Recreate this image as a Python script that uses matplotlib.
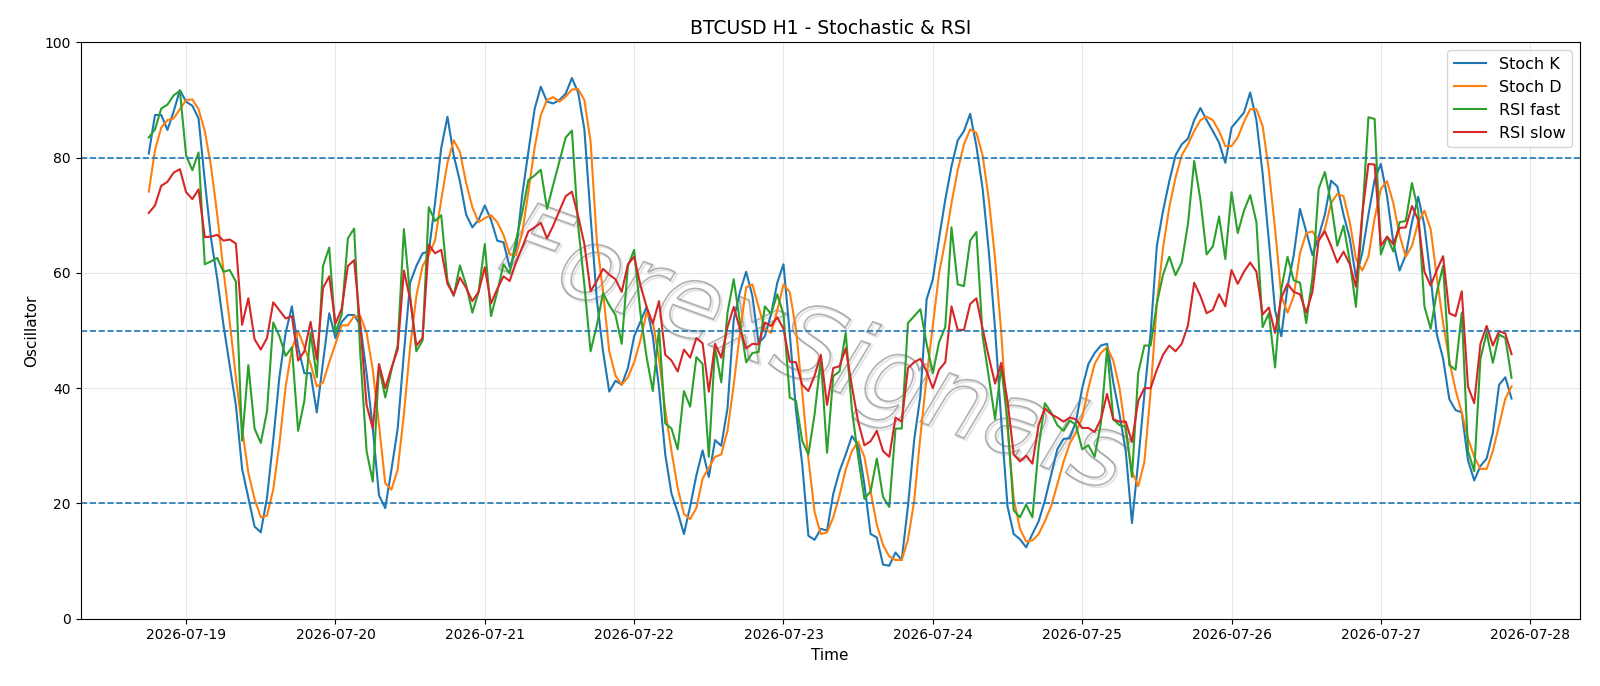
import matplotlib
matplotlib.use("Agg")
import matplotlib.pyplot as plt
import matplotlib.dates as mdates
import pandas as pd
from matplotlib.textpath import TextPath
from matplotlib.patches import PathPatch
from matplotlib.font_manager import FontProperties
from matplotlib.transforms import Affine2D, ScaledTranslation

# hourly bars, 2026-07-18 18:00 -> 2026-07-27 21:00
times = pd.date_range("2026-07-18 18:00", periods=220, freq="h")

stoch_k = [
    80.7, 87.4, 87.4, 84.8, 88, 91.7, 89.7, 89, 86.8, 76, 66, 59, 51, 44, 37, 26, 21, 16, 15, 21, 31, 42, 49.6, 54.2,
    47.1, 42.6, 42.6, 35.8, 44.5, 53, 48.7, 51.5, 52.7, 52.7, 50.9, 42.6, 33, 21.4, 19.2, 25.9, 33, 46.1, 58.3, 61.2, 63.4, 63.7, 72.1, 81.7,
    87.1, 80.4, 75.9, 70.1, 67.9, 69.2, 71.7, 69.2, 65.6, 65.3, 61, 63.7, 73.4, 81, 88.4, 92.3, 89.7, 89.4, 90, 91.1, 93.8, 91.3, 84.9, 69.8,
    55.4, 46.4, 39.4, 41.3, 40.6, 43.5, 49, 51.5, 54.1, 49, 40, 28.5, 21.7, 18.5, 14.7, 19.5, 24.9, 29.2, 24.6, 31, 30, 36.5, 51.9, 56.7,
    60.2, 56, 47.8, 49, 52.8, 58.3, 61.5, 49.6, 36.2, 26.9, 14.4, 13.7, 15.6, 15.3, 21.7, 25.6, 28.5, 31.7, 30.1, 23.3, 14.7, 14.1, 9.4, 9.2,
    11.5, 10.2, 19.5, 31, 38.7, 55.4, 58.9, 66, 72.7, 78.5, 83, 84.6, 87.6, 82, 74.6, 63.7, 50.3, 34.2, 19.5, 14.7, 13.8, 12.4, 14.7, 16.9,
    20.5, 24.9, 29.4, 31.2, 31.3, 34.2, 40, 44.2, 46.1, 47.4, 47.7, 41, 35.5, 29.1, 16.6, 27.2, 39, 49.6, 64.7, 70.8, 75.9, 80.4, 82.3, 83.3,
    86.5, 88.6, 86.5, 84.6, 82.6, 79.1, 85.2, 86.5, 87.8, 91.3, 86.5, 77.2, 65.6, 53.5, 49, 57.6, 63.1, 71.1, 67.2, 63.1, 66.3, 70.1, 76, 75,
    70.1, 66, 59.2, 63.4, 70.1, 76.2, 78.9, 73.3, 65.3, 60.4, 63.1, 68.8, 73.2, 68.2, 59.2, 49.3, 45.1, 38.1, 36.2, 35.8, 27.5, 24, 26.5, 27.8,
    32.3, 40.6, 41.9, 38.2,
]

stoch_d = [
    74.1, 81.3, 85.2, 86.5, 86.8, 88.4, 90, 90.1, 88.4, 84.6, 78.5, 70.1, 60.5, 51.5, 41.9, 33, 25.3, 20.8, 17.6, 17.9, 22.4, 30.4, 40.3, 46.8,
    49.9, 47.1, 44.2, 40.3, 41, 44.5, 47.7, 50.9, 50.9, 52.5, 52.5, 49.6, 43.2, 33.6, 23.5, 22.4, 25.9, 35.5, 47.1, 56, 61.2, 63.1, 65.6, 72.7,
    79.1, 83, 81, 75.6, 71.4, 68.8, 69.5, 70, 68.8, 66.6, 63.2, 63.1, 66.9, 74, 81.7, 87.4, 90, 90.5, 89.7, 90.6, 91.8, 91.9, 90, 82.8,
    65.6, 56.7, 46.4, 42.2, 40.6, 41.9, 44.5, 48.3, 53.1, 51.5, 45.1, 36.2, 29.1, 22.7, 18.2, 17.3, 19.2, 24.3, 26.2, 28.1, 28.5, 32.6, 40.6, 49.6,
    57.5, 58, 54.1, 50.3, 49.6, 53.5, 58, 56.7, 50.3, 39.4, 27.8, 18.5, 14.7, 15, 17.6, 21.4, 25.9, 29.1, 30.7, 28.1, 22.1, 16.3, 12.8, 10.8,
    10.2, 10.2, 13.7, 20.4, 31.7, 41.9, 50.9, 59.9, 65.6, 72.1, 77.8, 82.3, 84.9, 84.3, 80.4, 72.7, 62.5, 49.6, 33, 20.8, 15.6, 13.4, 13.6, 14.7,
    16.9, 19.5, 23.3, 27.2, 30.4, 32.3, 34.9, 40, 44.2, 46.1, 47.1, 44.8, 40, 32.3, 25.6, 23, 27.2, 39.4, 54.7, 64.4, 71.4, 76.5, 80.4, 82.3,
    84.6, 86.5, 87.1, 86.5, 84.6, 82, 82, 83.5, 86.2, 88.4, 88.4, 85.5, 77.8, 67.6, 56, 53.1, 56, 63.4, 66.9, 67.2, 65.6, 67.6, 72.1, 73.7,
    73.3, 68.8, 62.4, 60.4, 62.8, 69.5, 74.6, 75.9, 72.1, 66.6, 62.8, 64.7, 68.8, 70.8, 67.6, 59.2, 51.3, 44.8, 39.7, 35.8, 31.3, 28.1, 26, 26,
    29.1, 33.6, 38.2, 40.3,
]

rsi_fast = [
    83.5, 84.9, 88.5, 89.2, 90.8, 91.6, 80.4, 77.8, 80.9, 61.5, 62, 62.6, 60.2, 60.5, 58.5, 30.9, 44, 33, 30.5, 36, 51.4, 49, 45.6, 47.1,
    32.6, 37.8, 49.6, 41.9, 61.2, 64.4, 49.6, 52.8, 66, 67.7, 45.8, 29.1, 23.8, 43.8, 38.4, 43.2, 47.4, 67.6, 56, 46.4, 48.3, 71.4, 69, 70,
    58.6, 56, 61.3, 57.9, 53.1, 56.7, 65, 52.5, 56.7, 61.5, 59.9, 65.6, 70.4, 76.1, 76.9, 77.9, 71.1, 75.3, 79.4, 83.5, 84.7, 68.2, 57.9, 46.4,
    50.9, 56.5, 54.4, 52.7, 47.7, 61.2, 64, 53.1, 45.4, 39.5, 50.3, 33.9, 33, 29.4, 39.5, 36.8, 45.4, 44.2, 28.1, 47.1, 41, 53.1, 58.9, 51.5,
    44.5, 46.1, 46.3, 54.2, 52.9, 56.3, 52.8, 38.4, 37.8, 30.9, 28.5, 35.5, 45.1, 28.8, 42.1, 42.9, 49.6, 36.2, 28.1, 20.8, 22.1, 27.8, 21.1, 19.4,
    33, 33, 51.3, 52.5, 53.7, 47.7, 42.6, 48, 50.6, 67.9, 58, 57.7, 65.6, 67.1, 49, 41.9, 34.6, 43.8, 34.2, 18.8, 17.6, 19.8, 17.6, 29.7,
    37.4, 35.8, 33.6, 32.6, 34.4, 33.6, 29.4, 30.1, 28.1, 33.9, 46.9, 34.6, 33.6, 33.3, 24.6, 42.6, 47.4, 47.4, 54.7, 59.7, 62.8, 59.6, 61.8, 68.5,
    79.4, 72.7, 63.2, 64.6, 69.8, 62.4, 74, 66.9, 70.8, 73.5, 68.8, 50.6, 53, 43.6, 57.2, 62.8, 58.7, 58.3, 51.3, 59.2, 74.6, 77.5, 72.1, 64.7,
    68.2, 62.1, 54.1, 69.5, 87, 86.7, 63.2, 66.3, 63.7, 68.8, 69, 75.6, 70.8, 54.2, 50.3, 56.7, 61.2, 44, 43.2, 53.1, 29.1, 25.6, 45.1, 49.6,
    44.4, 49.3, 48.7, 41.8,
]

rsi_slow = [
    70.4, 71.7, 75.1, 75.8, 77.4, 78, 74, 72.8, 74.5, 66.2, 66.3, 66.6, 65.6, 65.8, 65.1, 51, 55.6, 48.5, 46.7, 48.7, 54.9, 53.5, 52.1, 52.5,
    44.8, 46.4, 51.5, 45, 57.4, 59.4, 51.2, 53.8, 61.2, 62.2, 50.9, 37.1, 33, 44.2, 40, 43.5, 46.7, 60.4, 55.4, 47.4, 48.7, 64.9, 63.4, 64,
    58.1, 56.2, 59.2, 57.4, 55.1, 56.7, 61, 54.7, 57.2, 59.4, 58.6, 61.8, 64.4, 67.2, 67.9, 68.7, 66, 68.2, 70.8, 73.3, 74.1, 69.8, 65, 56.8,
    58.6, 60.7, 59.7, 58.9, 56.7, 61.5, 62.8, 57.9, 54.1, 51.2, 55.1, 45.8, 44.8, 42.9, 46.7, 45.3, 48.7, 47.8, 39.4, 47.7, 45.3, 50.6, 54.1, 50.3,
    46.9, 47.7, 47.6, 51.4, 50.8, 52.3, 50.3, 44.6, 44.5, 40.6, 39.5, 42.2, 45.8, 37.1, 43.5, 43.8, 46.9, 40.3, 34.2, 30.1, 30.8, 32.6, 29.1, 28.1,
    34.9, 34.2, 43.5, 44.5, 45.1, 42.9, 40, 43.2, 44.5, 54.2, 50.1, 50.1, 54.6, 55.6, 50.3, 45.4, 40.8, 44.4, 37.8, 28.5, 27.3, 28.3, 26.9, 33.6,
    36.5, 35.5, 34.9, 34.2, 34.9, 34.6, 33.1, 33.1, 32.4, 34.6, 39, 34.6, 34.2, 34.2, 30.7, 37.8, 40, 40, 43.2, 45.8, 47.4, 46.4, 47.7, 50.9,
    58.3, 56, 53, 53.6, 56.3, 54.2, 60.5, 58.1, 60.2, 61.8, 60.2, 52.8, 54, 49.6, 55.7, 58.1, 56.7, 56.3, 53.1, 56.7, 65.6, 67.2, 64.7, 61.8,
    63.7, 61.5, 57.6, 70.1, 78.9, 78.8, 64.7, 66.3, 65, 67.8, 67.9, 71.6, 69.2, 60.2, 57.8, 60.5, 62.9, 53, 52.5, 56.8, 40.3, 37.4, 47.7, 50.8,
    47.4, 49.9, 49.5, 45.9,
]

levels = [80, 50, 20]

fig, ax = plt.subplots(figsize=(16, 6.86), dpi=100)
fig.subplots_adjust(left=0.0504, right=0.9873, top=0.9383, bottom=0.098)

ax.plot(times, stoch_k, label="Stoch K")
ax.plot(times, stoch_d, label="Stoch D")
ax.plot(times, rsi_fast, label="RSI fast")
ax.plot(times, rsi_slow, label="RSI slow")

for lv in levels:
    ax.axhline(lv, color="C0", linestyle="--", linewidth=1.2)

ax.set_ylim(0, 100)
ax.grid(True, alpha=0.3)
ax.xaxis.set_major_locator(mdates.DayLocator())
ax.xaxis.set_major_formatter(mdates.DateFormatter("%Y-%m-%d"))

ax.set_title("BTCUSD H1 - Stochastic & RSI", fontsize=13.5)
ax.set_xlabel("Time", fontsize=11)
ax.set_ylabel("Oscillator", fontsize=11)
ax.legend(loc="upper right", fontsize=11.5)

# watermark: hollow italic letters with a faint shadow
tp = TextPath((0, 0), "ForexSignals", size=74, prop=FontProperties(style="italic"))
bb = tp.get_extents()
base = (Affine2D().translate(-bb.x0 - bb.width / 2, -bb.y0 - bb.height / 2)
        .scale(1 / 72).rotate_deg(-20) + fig.dpi_scale_trans)
shadow = PathPatch(tp, transform=base + Affine2D().translate(2, -2)
                   + ScaledTranslation(0.49, 0.46, ax.transAxes),
                   facecolor="none", edgecolor="lightgray", lw=1.4, alpha=0.6)
letters = PathPatch(tp, transform=base + ScaledTranslation(0.49, 0.46, ax.transAxes),
                    facecolor="none", edgecolor="gray", lw=1.2, alpha=0.6)
ax.add_artist(shadow)
ax.add_artist(letters)

fig.savefig("out.png")
